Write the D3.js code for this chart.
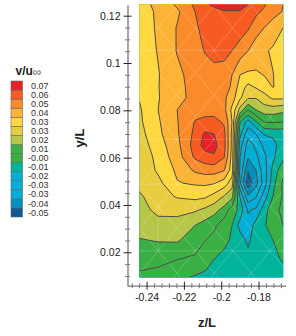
<!DOCTYPE html>
<html>
<head>
<meta charset="utf-8">
<script src="https://cdn.jsdelivr.net/npm/d3@7"></script>
<style>
body { margin: 0; background: #fff; }
text { font-family: "Liberation Sans", Arial, sans-serif; }
</style>
</head>
<body>
<div id="chart"></div>
<script>
// grid nodes of the measured plane
const zNodes = [-0.2438, -0.2338, -0.2236, -0.214, -0.2086, -0.2038, -0.1984, -0.1942, -0.1899, -0.1856, -0.1813, -0.177, -0.1722, -0.1668];
const yNodes = [0.1247, 0.1217, 0.1149, 0.1052, 0.095, 0.0899, 0.0853, 0.0802, 0.0751, 0.07, 0.0653, 0.0603, 0.0547, 0.0492, 0.0437, 0.0378, 0.0314, 0.0251, 0.0175, 0.0094];

// v/u values x1000, one row per yNode
const vGrid = [
  [37, 42, 50, 58.5, 64, 67, 69, 69, 68, 65.5, 61, 58, 53, 48.5],
  [37, 41, 47, 57, 60, 63, 65, 65, 65, 62, 59, 55.5, 52, 48],
  [36, 41, 49, 55.5, 60, 62, 63, 63, 61.5, 58, 52, 48.5, 44, 40],
  [35, 40.5, 49, 54, 57.5, 60, 60, 57, 53, 48.5, 44, 41, 39, 38],
  [33, 39.5, 46.5, 52, 53.5, 54, 53, 48.5, 40, 38.5, 39, 40.2, 40.2, 37],
  [32.7, 39.7, 46, 51.5, 52.7, 52.7, 51.5, 47.5, 36, 29, 32.5, 36, 40.4, 35],
  [32, 39.5, 46, 51, 52, 51.5, 50, 44, 33, 24, 23.5, 28, 33, 33],
  [30.5, 40, 48.5, 54, 54.5, 54, 51, 38, 20, 6, 14.5, 19, 19, 17],
  [30, 39, 48, 57.5, 59, 59.5, 56, 40, -3, -15, -4, 6, 7, 6],
  [28.5, 38, 47.5, 59, 67, 65.5, 59, 38, -9, -26, -20, -11, -10, -9],
  [27, 36, 46, 61, 69, 68, 60, 38, -16, -33, -27, -18, -14, -7],
  [25.5, 34, 44.6, 58.5, 62, 64.5, 57.5, 37, -20, -36, -31, -22, -13, -5],
  [24, 33, 41.5, 50, 52, 52, 49, 36, -22, -45.5, -37, -24, -9, 3],
  [25, 29, 39.5, 41, 41.5, 40.5, 36, 27, -28, -52, -40, -25, -6, 8],
  [22, 27, 32.5, 34, 33, 29, 22.5, 17, -12, -36, -30, -16, -3, 7],
  [20, 25, 24.5, 24, 21, 17.5, 11, 2, -6, -21, -18, -7, 3, 8],
  [18, 20, 21, 14.5, 11, 8, 1, -3, -15, -17, -8, -4, 1, 6],
  [14, 15, 15.5, 10, 6, 3, -1, -4, -7, -13.5, -6, -5, -3, 2.5],
  [9, 9.5, 6.5, 5, 1, -2.8, -5, -5.5, -6, -8.5, -6.5, -5.5, -4, -2.5],
  [4.5, 2, -1, -4, -5, -6, -7, -7, -7, -7, -6.5, -6, -5, -4.5]
];

// contour levels (x1000) between the colour bands, low to high
const levels = [-46, -37, -29, -20, -11.5, -3, 6, 14.5, 23, 31.5, 40, 48.5, 57, 65.5];
const bandColors = ['#0e5a99', '#0090bf', '#00aed6', '#00aed6', '#00aed6', '#00b39b', '#3ab044', '#3ab044', '#b7c548', '#e8cd41', '#fed83e', '#fdb336', '#fb8b2a', '#f75b21', '#e8202a'];
const legendLabels = ['-0.05', '-0.04', '-0.03', '-0.03', '-0.02', '-0.01', '-0.00', '0.01', '0.02', '0.03', '0.03', '0.04', '0.05', '0.06', '0.07'];

const xMajor = [-0.24, -0.22, -0.2, -0.18];
const xLabels = ['-0.24', '-0.22', '-0.2', '-0.18'];
const xMinor = [-0.248, -0.244, -0.236, -0.232, -0.228, -0.224, -0.216, -0.212, -0.208, -0.204, -0.196, -0.192, -0.188, -0.184, -0.176, -0.172, -0.168];
const yMajor = [0.02, 0.04, 0.06, 0.08, 0.1, 0.12];
const yLabels = ['0.02', '0.04', '0.06', '0.08', '0.1', '0.12'];
const yMinor = [0.01, 0.015, 0.025, 0.03, 0.035, 0.045, 0.05, 0.055, 0.065, 0.07, 0.075, 0.085, 0.09, 0.095, 0.105, 0.11, 0.115];

// nodes of the diamond mesh that shows through the fill
const meshZ = [-0.2438, -0.2338, -0.2238, -0.2138, -0.2038, -0.1938, -0.1838, -0.1738, -0.1638];
const meshY = [0.1242, 0.1148, 0.1054, 0.096, 0.0865, 0.0771, 0.0677, 0.0583, 0.0488, 0.0394, 0.03, 0.0206, 0.0112, 0.0018];
const meshRows = [0.1054, 0.0677, 0.0488, 0.0206];
const meshVert = [[-0.2338, 0.0206, 0.0394]];

const width = 296;
const height = 336;
const svg = d3.select('#chart').append('svg').attr('width', width).attr('height', height).style('display', 'block');

const x = d3.scaleLinear().domain([-0.25024, -0.16541]).range([127.5, 285.7]);
const y = d3.scaleLinear().domain([0.00588, 0.12452]).range([285.7, 5]);

const plotX0 = x(zNodes[0]);
const plotX1 = x(zNodes[zNodes.length - 1]);
const plotY0 = y(yNodes[0]);
const plotY1 = y(yNodes[yNodes.length - 1]);

svg.append('clipPath').attr('id', 'plot-clip').append('rect')
    .attr('x', plotX0).attr('y', plotY0)
    .attr('width', plotX1 - plotX0).attr('height', plotY1 - plotY0);

// d3.contours puts value i at coordinate i + 0.5, the ends run past the clip so no border gets stroked
const colDomain = [0].concat(zNodes.map((d, i) => i + 0.5), [zNodes.length]);
const colRange = [plotX0 - 8].concat(zNodes.map(d => x(d)), [plotX1 + 8]);
const rowDomain = [0].concat(yNodes.map((d, i) => i + 0.5), [yNodes.length]);
const rowRange = [plotY0 - 8].concat(yNodes.map(d => y(d)), [plotY1 + 8]);
const colScale = d3.scaleLinear().domain(colDomain).range(colRange);
const rowScale = d3.scaleLinear().domain(rowDomain).range(rowRange);
const gridPath = d3.geoPath(d3.geoTransform({
    point: function(px, py) { this.stream.point(colScale(px), rowScale(py)); }
}));

const contours = d3.contours()
    .size([zNodes.length, yNodes.length])
    .thresholds(levels)(vGrid.flat());

const plot = svg.append('g').attr('clip-path', 'url(#plot-clip)');
plot.append('rect')
    .attr('x', plotX0).attr('y', plotY0)
    .attr('width', plotX1 - plotX0).attr('height', plotY1 - plotY0)
    .attr('fill', bandColors[0]);
plot.selectAll('path.band').data(contours).enter().append('path')
    .attr('class', 'band')
    .attr('d', gridPath)
    .attr('fill', (d, i) => bandColors[i + 1]);

// diamond mesh plus the few straight edges that show
const meshLines = [];
meshRows.forEach(v => meshLines.push([[meshZ[0], v], [meshZ[meshZ.length - 1], v]]));
meshVert.forEach(d => meshLines.push([[d[0], d[1]], [d[0], d[2]]]));
meshY.slice(1).forEach((v, j) => {
    meshZ.slice(1).forEach((u, i) => {
        if ((i + j) % 2 == 0) {
            meshLines.push([[meshZ[i], meshY[j]], [u, v]]);
        } else {
            meshLines.push([[u, meshY[j]], [meshZ[i], v]]);
        }
    });
});
plot.selectAll('line.mesh').data(meshLines).enter().append('line')
    .attr('class', 'mesh')
    .attr('x1', d => x(d[0][0])).attr('y1', d => y(d[0][1]))
    .attr('x2', d => x(d[1][0])).attr('y2', d => y(d[1][1]))
    .attr('stroke', '#fff').attr('stroke-opacity', 0.3).attr('stroke-width', 0.7);

plot.selectAll('path.line').data(contours).enter().append('path')
    .attr('class', 'line')
    .attr('d', gridPath)
    .attr('fill', 'none')
    .attr('stroke', '#4c4c46')
    .attr('stroke-width', 1);

// axes, ticks cross the axis line
function styleAxis(g) {
    g.select('.domain').attr('stroke', '#777').attr('stroke-width', 1.3);
    g.selectAll('text').attr('font-size', 10.5).attr('fill', '#222');
}

const xAxisMinor = d3.axisBottom(x).tickValues(xMinor).tickFormat('').tickSize(0);
const xAxisMajor = d3.axisBottom(x).tickValues(xMajor).tickFormat((d, i) => xLabels[i]).tickSize(0).tickPadding(6);
const yAxisMinor = d3.axisLeft(y).tickValues(yMinor).tickFormat('').tickSize(0);
const yAxisMajor = d3.axisLeft(y).tickValues(yMajor).tickFormat((d, i) => yLabels[i]).tickSize(0).tickPadding(7);

const gxMinor = svg.append('g').attr('transform', 'translate(0,285.7)').call(xAxisMinor);
gxMinor.select('.domain').remove();
gxMinor.selectAll('.tick line').attr('y1', -2.5).attr('y2', 2.5).attr('stroke', '#555').attr('stroke-width', 0.8);
const gxMajor = svg.append('g').attr('transform', 'translate(0,285.7)').call(xAxisMajor);
gxMajor.selectAll('.tick line').attr('y1', -4).attr('y2', 4).attr('stroke', '#222').attr('stroke-width', 1);
styleAxis(gxMajor);
gxMajor.selectAll('text').attr('dy', '0.9em');

const gyMinor = svg.append('g').attr('transform', 'translate(127.5,0)').call(yAxisMinor);
gyMinor.select('.domain').remove();
gyMinor.selectAll('.tick line').attr('x1', -2.5).attr('x2', 2.5).attr('stroke', '#555').attr('stroke-width', 0.8);
const gyMajor = svg.append('g').attr('transform', 'translate(127.5,0)').call(yAxisMajor);
gyMajor.selectAll('.tick line').attr('x1', -4).attr('x2', 4).attr('stroke', '#222').attr('stroke-width', 1);
styleAxis(gyMajor);

svg.append('text').attr('x', 207).attr('y', 327).attr('text-anchor', 'middle')
    .attr('font-size', 13).attr('font-weight', 'bold').attr('fill', '#222').text('z/L');
svg.append('text').attr('transform', 'translate(84,138) rotate(-90)').attr('text-anchor', 'middle')
    .attr('font-size', 13).attr('font-weight', 'bold').attr('fill', '#222').text('y/L');

// legend
const legendY = d3.scaleBand().domain(d3.range(bandColors.length)).range([217, 81]);
const legend = svg.append('g');
legend.selectAll('rect').data(bandColors).enter().append('rect')
    .attr('x', 11).attr('y', (d, i) => legendY(i))
    .attr('width', 11.5).attr('height', legendY.bandwidth())
    .attr('fill', d => d).attr('stroke', '#666').attr('stroke-width', 0.6);
legend.selectAll('text').data(legendLabels).enter().append('text')
    .attr('x', 48.5).attr('y', (d, i) => legendY(i) + legendY.bandwidth() / 2)
    .attr('dy', '0.35em').attr('text-anchor', 'end')
    .attr('font-size', 9).attr('fill', '#333').text(d => d);
const title = svg.append('text').attr('x', 15.5).attr('y', 75)
    .attr('font-size', 12).attr('font-weight', 'bold').attr('fill', '#222');
title.append('tspan').text('v/u');
title.append('tspan').attr('dy', 1).attr('font-size', 12).attr('font-weight', 'normal').attr('fill', '#666').text('∞');
</script>
</body>
</html>
